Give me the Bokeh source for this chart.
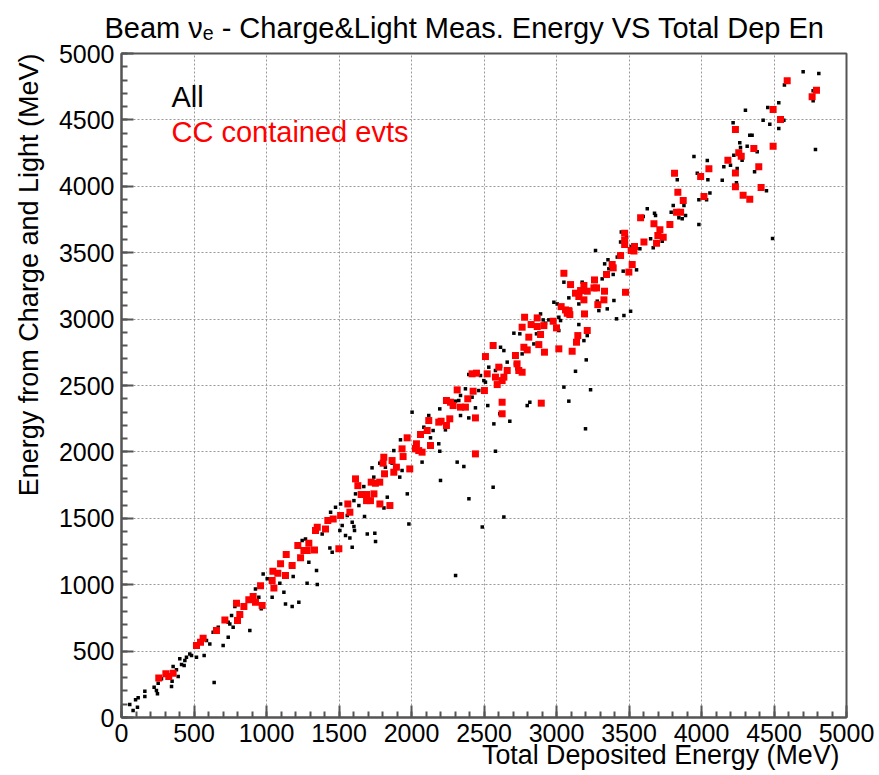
import math
from bokeh.plotting import figure
from bokeh.models import Range1d, SingleIntervalTicker, Label, ColumnDataSource, Title
from bokeh.embed import file_html
from bokeh.resources import INLINE

# ---------------- data (MeV) ----------------
all_pts = [
(57,98),(80,52),(110,78),(97,133),(115,148),(161,198),(161,158),(225,228),(241,203),(248,178),(253,258),(276,291),(345,233),(349,273),(356,384),(391,309),(379,359),(402,442),(414,399),(437,429),(432,391),(448,454),(471,479),(483,467),(517,454),(529,529),(552,580),(570,467),(586,580),(609,554),(632,642),(667,680),(701,542),(736,605),(736,718),(759,768),(770,680),(747,705),(782,836),(885,655),(639,263),
(1280,1011),
(964,818),(947,906),(924,968),(977,1081),(1005,1044),(1039,906),(1092,1011),(1131,855),(1177,835),(1223,868),(1120,943),(1166,1144),(1184,1061),(1246,1332),(1269,1345),(1292,1169),(1345,1106),(1350,1001),(1384,1382),(1437,1277),(1453,1244),(1442,1546),(1476,1583),(1511,1608),(1506,1408),(1522,1445),(1545,1370),(1557,1521),(1591,1470),(1603,1438),(1607,1408),(1591,1282),(1575,1352),(1637,1596),(1676,1513),(1695,1382),(1747,1388),(1752,1325),(1614,1684),(1603,1633),(1833,1659),(1810,1578),(1982,1458),(1971,1684),
(1671,1739),(1728,1880),(1740,1810),(1781,1915),(1820,1885),(1878,2010),(1866,1915),(1919,1810),(1935,1860),(1924,2091),(1993,1865),(2004,2299),(2016,2036),(2073,1923),(2085,2186),(2119,2274),(2131,2106),(2149,2161),(2188,2061),(2195,2005),(2200,1785),(2195,2324),(2234,2199),(2234,2166),(2303,2382),(2338,2274),(2326,2387),(2338,2425),(2372,2475),(2395,2256),(2441,2332),(2418,2412),(2315,1923),(2361,1890),(2395,2583),(2464,2462),(2476,2575),(2499,2537),(2510,2525),(2533,2638),(2526,2349),(2563,1734),(2568,2211),(2579,2005),(2609,2287),(2579,2613),(2614,2643),(2614,2788),(2637,2763),(2660,2676),(2678,2231),(2706,2894),(2717,2663),(2728,2625),(2747,2889),(2763,2738),(2798,2349),(2816,2374),(2786,2776),
(2304,1070),(2396,1647),(2488,1434),(2637,1509),
(3200,2174),(3235,2468),(3051,2488),(3085,2382),
(2844,2813),(2862,2889),(2890,3039),(2908,2994),(2924,2969),(2947,2994),(2982,3127),(3005,3114),(3016,3014),(3016,2914),(3028,2989),(3051,3278),(3062,3064),(3085,3160),(3097,3069),(3131,2607),(3143,2851),(3154,2959),(3154,3114),(3166,3190),(3177,3278),(3189,2838),(3205,2693),(3212,2876),(3200,3215),(3269,3516),(3281,3135),(3292,3064),(3350,3077),(3396,3140),(3414,3002),(3465,3027),(3511,3059),
(3315,3303),(3332,3416),(3361,3379),(3355,3447),(3391,3336),(3430,3479),(3419,3467),(3447,3655),(3442,3580),(3483,3617),(3460,3361),(3515,3547),(3552,3371),(3575,3529),(3598,3773),(3626,3831),(3649,3605),(3667,3537),(3676,3798),(3683,3780),(3713,3630),(3729,3587),(3791,3805),(3805,3856),(3833,4049),(3844,3763),(3867,3755),(3879,3856),(3890,3780),(3948,4225),(3971,4099),(3982,3713),(3982,3898),(4035,3898),(4040,4194),(4044,4049),(4058,3949),
(4701,4862),(4809,4849),(4572,4762),(4770,4719),(4770,4644),(4533,4629),(4457,4593),(4303,4573),(4218,4478),(4425,4498),(4471,4468),(4568,4498),(4533,4435),(4333,4385),(4349,4385),(4264,4327),(4315,4302),(4269,4292),(4384,4260),(4223,4234),(4280,4197),(4154,4147),(4200,4159),(4246,4134),(4366,4109),(4143,4046),(4241,4026),(4448,3966),(4786,4277),(4490,3607),
]

cc_pts = [
(257,298),(306,329),(326,309),(356,334),(517,542),(545,567),(563,597),(655,655),(713,735),(800,730),(793,861),(816,775),
(844,835),(878,886),(908,911),(924,868),(959,993),(970,843),(1044,1101),(1051,976),(1039,1031),(1078,1086),(1097,1157),(1131,1069),(1136,1227),(1177,1144),(1216,1295),(1235,1202),(1258,1257),(1281,1257),(1292,1312),(1331,1262),(1338,1408),(1350,1433),(1407,1420),(1423,1483),(1460,1495),(1499,1270),(1511,1521),(1561,1608),(1575,1546),(1614,1797),(1630,1746),(1653,1679),(1690,1679),(1690,1633),(1717,1633),(1741,1684),(1782,1608),(1851,1596),
(1722,1772),(1751,1764),(1781,1772),(1809,1960),(1804,1915),(1814,1835),(1866,1935),(1878,1847),(1896,1885),(1935,2023),(1942,1965),(1970,2106),(1988,1872),(2027,2023),(2034,2061),(2062,2131),(2050,2010),(2073,1998),(2108,2161),(2119,2236),(2131,2048),(2188,2224),(2204,2231),(2241,2199),(2264,2249),(2241,2387),(2269,2374),(2287,2349),(2315,2467),(2338,2337),(2372,2337),(2388,2400),(2425,2457),(2441,2256),(2441,1985),(2418,2588),(2448,2593),(2503,2462),(2522,2588),(2510,2718),(2563,2801),(2591,2507),(2579,2563),(2602,2638),(2625,2537),(2637,2563),(2660,2613),(2625,2374),(2625,2287),(2717,2726),(2728,2663),(2740,2613),(2763,2600),(2775,2788),(2798,2768),(2809,2864),
(2895,2367),
(2763,2939),(2780,3014),(2825,2959),(2867,3009),(2867,2944),(2878,2808),(2890,2884),(2913,2951),(2917,2751),(2977,2984),(3000,2934),(3016,2776),(3032,3094),(3062,3069),(3074,3044),(3085,3064),(3092,3034),(3097,3260),(3108,2758),(3051,3345),(3131,3195),(3147,2876),(3138,2826),(3154,3170),(3166,3215),(3189,3145),(3193,3039),(3212,2914),(3189,3253),(3212,3210),(3258,3235),(3276,3235),(3262,3295),(3285,3109),(3327,3145),(3331,3210),(3476,3202),
(3345,3336),(3384,3411),(3391,3386),(3499,3354),(3442,3479),(3470,3647),(3470,3592),(3470,3562),(3515,3517),(3534,3512),(3538,3547),(3522,3411),(3580,3763),(3603,3580),(3672,3718),(3690,3572),(3699,3630),(3713,3672),(3736,3617),(3782,3713),(3814,4099),(3837,3956),(3828,3805),(3856,3805),(3874,3893),(3994,4074),(4017,3923),(4051,4132),
(4591,4794),(4793,4724),(4763,4674),(4494,4578),(4545,4503),(4234,4428),(4494,4302),(4361,4285),(4257,4252),(4274,4227),(4182,4197),(4234,4101),(4395,4147),(4234,3996),(4411,3991),(4287,3933),(4333,3903),
]

all_x = [p[0] for p in all_pts]
all_y = [p[1] for p in all_pts]
cc_x = [p[0] for p in cc_pts]
cc_y = [p[1] for p in cc_pts]

title_text = "Beam \u03bd\u2091 - Charge&Light Meas. Energy VS Total Dep En"
x_title = "Total Deposited Energy (MeV)"
y_title = "Energy from Charge and Light (MeV)"
legend_all = "All"
legend_cc = "CC contained evts"

# ---------------- layout ----------------
W, H = 879, 775
L, R, T, B = 121, 33, 53, 58
FW, FH = W - L - R, H - T - B
XMAX, YMAX = 5000, 5000

def X(px):
    return (px - L) * XMAX / FW

def Y(py):
    return (H - B - py) * YMAX / FH

FONT = "Liberation Sans"

p = figure(width=W, height=H, x_range=Range1d(0, XMAX), y_range=Range1d(0, YMAX),
           output_backend="svg", toolbar_location=None,
           min_border_left=L, min_border_right=R, min_border_top=T, min_border_bottom=B)
p.title.text = title_text
p.title.align = "left"
p.title.offset = -17
p.title.standoff = 19
p.title.text_font = FONT
p.title.text_font_size = "29px"
p.title.text_font_style = "normal"
p.title.text_color = "black"

p.background_fill_color = "white"
p.border_fill_color = "white"
p.outline_line_color = "#555555"
p.outline_line_width = 2

for ax in (p.xaxis[0], p.yaxis[0]):
    ax.ticker = SingleIntervalTicker(interval=500, num_minor_ticks=5)
    ax.axis_line_color = "#555555"
    ax.axis_line_width = 2
    ax.major_tick_line_color = "#555555"
    ax.major_tick_line_width = 2
    ax.minor_tick_line_color = "#555555"
    ax.minor_tick_line_width = 2
    ax.major_tick_in = 12
    ax.major_tick_out = 0
    ax.minor_tick_in = 6
    ax.minor_tick_out = 0
    ax.major_label_text_font = FONT
    ax.major_label_text_font_size = "25px"
    ax.major_label_text_color = "black"
p.xaxis.major_label_standoff = 6
p.yaxis.major_label_standoff = 7

for g in (p.xgrid[0], p.ygrid[0]):
    g.ticker = SingleIntervalTicker(interval=500)
    g.grid_line_color = "#999999"
    g.grid_line_dash = "2 2"
    g.grid_line_width = 1

src_all = ColumnDataSource(dict(x=all_x, y=all_y))
src_cc = ColumnDataSource(dict(x=cc_x, y=cc_y))
p.scatter("x", "y", source=src_all, marker="square", size=3.5, color="black", line_color=None)
p.scatter("x", "y", source=src_cc, marker="square", size=7, color="#ff0000", line_color=None)

# axis titles (ROOT style: aligned to the axis end)
xt = Title(text=x_title, align="right", offset=7, standoff=-14,
           text_font=FONT, text_font_size="26.8px", text_font_style="normal", text_color="black")
p.add_layout(xt, "below")
yt = Title(text=y_title, align="right", offset=0, standoff=23,
           text_font=FONT, text_font_size="27px", text_font_style="normal", text_color="black")
p.add_layout(yt, "left")

# legend texts
def lab(text, x, y, size, color="black"):
    p.add_layout(Label(x=x, y=y, text=text, text_font=FONT, text_font_size=size,
                       text_color=color, text_align="left", text_baseline="alphabetic"))

lab(legend_all, X(171), Y(96), "29px")
lab(legend_cc, X(171), Y(131), "29px", color="#ff0000")

open("out.html", "w").write(file_html(p, INLINE))
